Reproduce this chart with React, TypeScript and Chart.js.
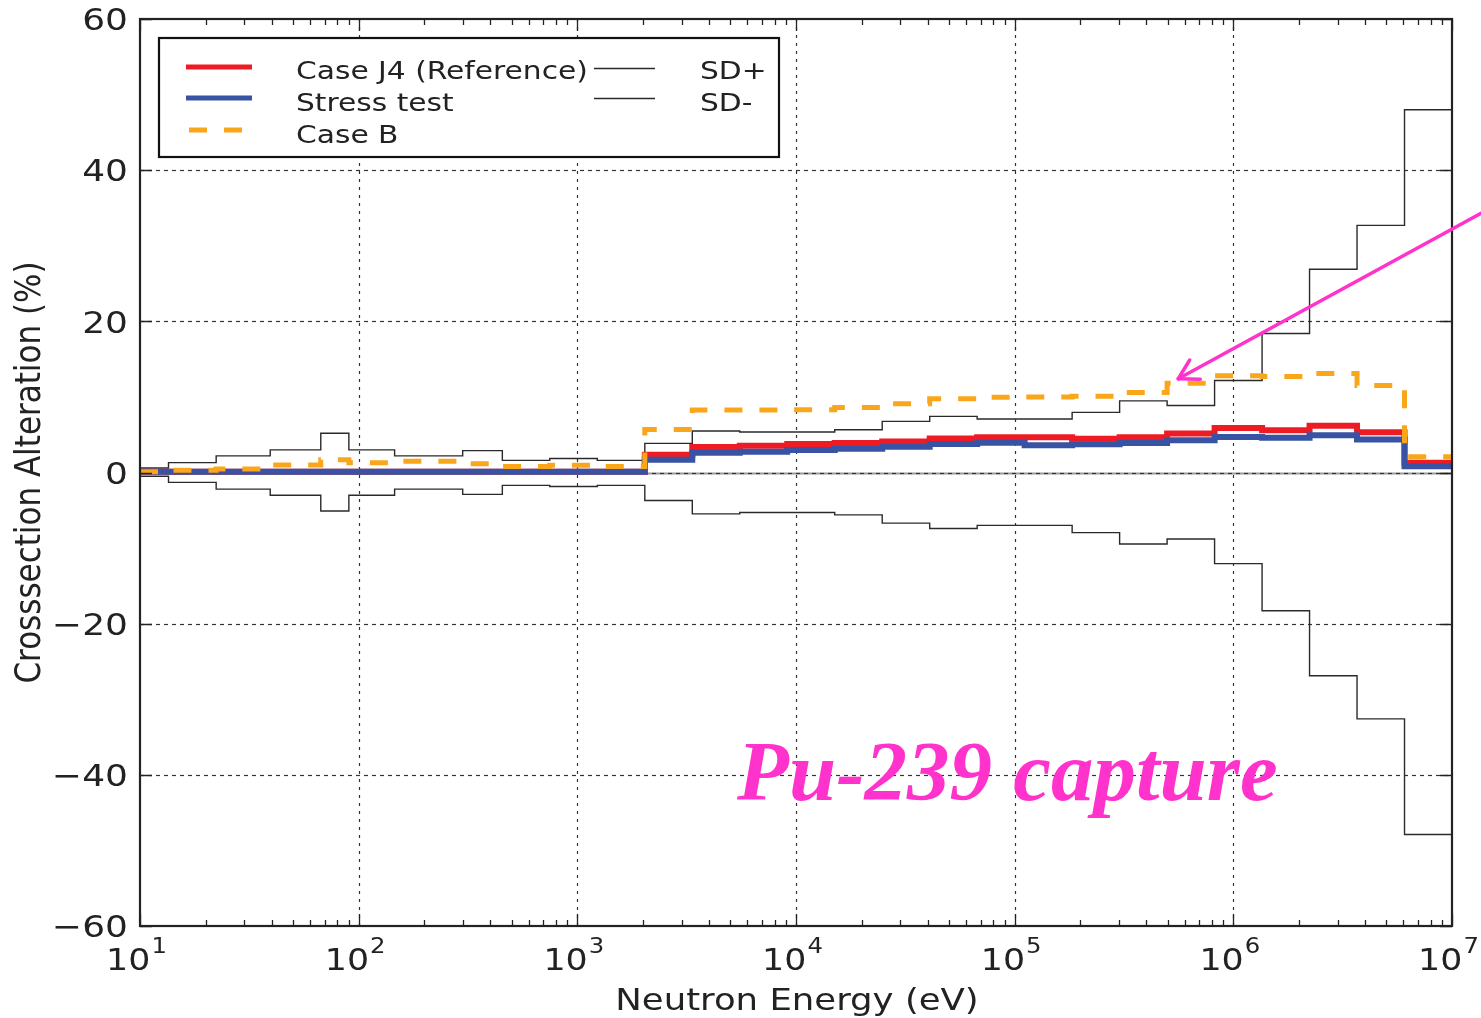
import React, { useEffect, useRef } from 'react';
import { Chart, registerables } from 'chart.js';

Chart.register(...registerables);

// Group boundaries (eV), 28 groups
const ENERGY_BOUNDS = [
  10, 13.5, 22.3, 39.4, 67.1, 90.2, 146, 299, 454, 748, 1234, 2035, 3355, 5531,
  9119, 15034, 24788, 40868, 67379, 111090, 183156, 301974, 497871, 820850,
  1353353, 2231302, 3678794, 6065307, 10000000,
];

const CASE_J4 = [
  0.1, 0.1, 0.1, 0.1, 0.1, 0.1, 0.1, 0.1, 0.1, 0.1, 0.1,
  2.36, 3.37, 3.55, 3.77, 3.9, 4.1, 4.5, 4.65, 4.65, 4.45, 4.67, 5.16, 5.9, 5.6, 6.2, 5.33, 1.28,
];

const STRESS_TEST = [
  0.1, 0.1, 0.1, 0.1, 0.1, 0.1, 0.1, 0.1, 0.1, 0.1, 0.1,
  1.7, 2.6, 2.75, 2.97, 3.15, 3.4, 3.77, 3.94, 3.6, 3.75, 3.9, 4.28, 4.7, 4.6, 4.94, 4.37, 0.84,
];

const CASE_B = [
  0.1, 0.3, 0.45, 1.0, 1.7, 1.3, 1.5, 1.15, 0.8, 0.95, 0.8,
  5.7, 8.26, 8.26, 8.3, 8.6, 9.1, 9.75, 9.95, 10.0, 10.1, 10.6, 11.8, 12.8, 12.7, 13.1, 11.5, 2.1,
];

const SD_PLUS = [
  0.6, 1.3, 2.2, 3.0, 5.2, 3.0, 2.2, 2.9, 1.6, 1.85, 1.6,
  3.85, 5.5, 5.35, 5.35, 5.66, 6.76, 7.42, 7.07, 7.07, 7.95, 9.48, 8.86, 12.17, 18.4, 26.9, 32.7, 48.0,
];

const SD_MINUS = [
  -0.5, -1.3, -2.2, -3.0, -5.1, -3.0, -2.2, -2.9, -1.7, -1.85, -1.7,
  -3.7, -5.48, -5.3, -5.3, -5.6, -6.7, -7.4, -7.0, -7.0, -7.95, -9.46, -8.8, -12.06, -18.3, -26.9, -32.6, -47.9,
];

const X_DECADES = [1, 2, 3, 4, 5, 6, 7];
const Y_TICKS = [-60, -40, -20, 0, 20, 40, 60];
const LEGEND_LEFT = ['Case J4 (Reference)', 'Stress test', 'Case B'];
const LEGEND_RIGHT = ['SD+', 'SD-'];
const X_TITLE = 'Neutron Energy (eV)';
const Y_TITLE = 'Crosssection Alteration (%)';
const NOTE_TEXT = 'Pu-239 capture';
const NOTE_POS = { ev: 5370, val: -43.3 };
const ARROW_TIP = { ev: 5.6e5, val: 12.4 };
const ARROW_TAIL_VAL = 34.3;

const COLORS = {
  j4: '#ED1C24',
  stress: '#3953A4',
  caseB: '#FAA61A',
  sd: '#2a2a2a',
  ink: '#222222',
  note: '#FF33CC',
};

const SX = 1.16; // horizontal stretch of the original figure's text
const FONT = '"DejaVu Sans", sans-serif';

function stepPoints(values: number[]) {
  const pts = values.map((v, i) => ({ x: ENERGY_BOUNDS[i], y: v }));
  pts.push({ x: ENERGY_BOUNDS[values.length], y: values[values.length - 1] });
  return pts;
}

function sText(ctx: CanvasRenderingContext2D, text: string, x: number, y: number, font: string, align: string, sx = SX) {
  ctx.save();
  ctx.font = font;
  ctx.textBaseline = 'alphabetic';
  ctx.textAlign = 'left';
  const w = ctx.measureText(text).width * sx;
  const x0 = align === 'center' ? x - w / 2 : align === 'right' ? x - w : x;
  ctx.translate(x0, y);
  ctx.scale(sx, 1);
  ctx.fillText(text, 0, 0);
  ctx.restore();
  return w;
}

const decorPlugin = {
  id: 'decor',
  beforeDraw(chart: any) {
    const { ctx, width, height } = chart;
    ctx.save();
    ctx.fillStyle = '#ffffff';
    ctx.fillRect(0, 0, width, height);
    ctx.restore();
  },
  beforeDatasetsDraw(chart: any) {
    const { ctx, chartArea: a, scales } = chart;
    const xs = scales.x;
    const ys = scales.y;
    ctx.save();
    const y0 = Math.round(ys.getPixelForValue(0)) + 0.5;
    ctx.strokeStyle = '#9a9a9a';
    ctx.lineWidth = 2;
    ctx.beginPath();
    ctx.moveTo(a.left, y0);
    ctx.lineTo(a.right, y0);
    ctx.stroke();
    ctx.strokeStyle = '#333';
    ctx.lineWidth = 1.2;
    ctx.setLineDash([4, 4]);
    for (const v of Y_TICKS) {
      if (v === -60 || v === 60) continue;
      const y = Math.round(ys.getPixelForValue(v)) + 0.5;
      ctx.beginPath();
      ctx.moveTo(a.left, y);
      ctx.lineTo(a.right, y);
      ctx.stroke();
    }
    ctx.setLineDash([3, 5]);
    for (const k of X_DECADES) {
      if (k === 1 || k === 7) continue;
      const x = Math.round(xs.getPixelForValue(Math.pow(10, k))) + 0.5;
      ctx.beginPath();
      ctx.moveTo(x, a.top);
      ctx.lineTo(x, a.bottom);
      ctx.stroke();
    }
    ctx.restore();
  },
  afterDatasetsDraw(chart: any) {
    const { ctx, chartArea: a, scales, width } = chart;
    const xs = scales.x;
    const ys = scales.y;
    ctx.save();
    ctx.strokeStyle = COLORS.ink;
    ctx.fillStyle = COLORS.ink;
    ctx.lineWidth = 1.3;
    for (const k of X_DECADES) {
      for (let m = 1; m <= 9; m++) {
        if (k === 7 && m > 1) break;
        const v = m * Math.pow(10, k);
        const x = Math.round(xs.getPixelForValue(v)) + 0.5;
        const len = m === 1 ? 12 : 6;
        ctx.beginPath();
        ctx.moveTo(x, a.bottom);
        ctx.lineTo(x, a.bottom - len);
        ctx.moveTo(x, a.top);
        ctx.lineTo(x, a.top + len);
        ctx.stroke();
      }
    }
    for (const v of Y_TICKS) {
      const y = Math.round(ys.getPixelForValue(v)) + 0.5;
      ctx.beginPath();
      ctx.moveTo(a.left, y);
      ctx.lineTo(a.left + 12, y);
      ctx.moveTo(a.right, y);
      ctx.lineTo(a.right - 12, y);
      ctx.stroke();
    }
    ctx.lineWidth = 2.2;
    ctx.strokeRect(a.left, a.top, a.right - a.left, a.bottom - a.top);

    for (const v of Y_TICKS) {
      const y = ys.getPixelForValue(v);
      const t = v < 0 ? '\u2212' + Math.abs(v) : String(v);
      sText(ctx, t, a.left - 12, y + 11.3, `31px ${FONT}`, 'right');
    }
    for (const k of X_DECADES) {
      const x = xs.getPixelForValue(Math.pow(10, k));
      ctx.font = `30px ${FONT}`;
      const wb = ctx.measureText('10').width * SX;
      ctx.font = `21px ${FONT}`;
      const we = ctx.measureText(String(k)).width * SX;
      const left = x - (wb + we) / 2 - 4;
      sText(ctx, '10', left, 970, `30px ${FONT}`, 'left');
      sText(ctx, String(k), left + wb + 1, 953, `21px ${FONT}`, 'left');
    }
    sText(ctx, X_TITLE, (a.left + a.right) / 2 + 1, 1010, `30.6px ${FONT}`, 'center');
    ctx.save();
    ctx.font = `31px ${FONT}`;
    const tw = ctx.measureText(Y_TITLE).width;
    ctx.translate(40, (a.top + a.bottom) / 2);
    ctx.rotate(-Math.PI / 2);
    ctx.scale(1, SX);
    ctx.textBaseline = 'alphabetic';
    ctx.textAlign = 'left';
    ctx.fillText(Y_TITLE, -tw / 2, 0);
    ctx.restore();

    // legend
    const lx = 159, ly = 38, lw = 620, lh = 119;
    ctx.fillStyle = '#ffffff';
    ctx.fillRect(lx, ly, lw, lh);
    ctx.lineWidth = 2.2;
    ctx.strokeStyle = '#111';
    ctx.strokeRect(lx, ly, lw, lh);
    const rows = [67, 98, 130];
    const baselines = [79, 111, 143];
    ctx.lineWidth = 5;
    ctx.lineCap = 'butt';
    ctx.strokeStyle = COLORS.j4;
    ctx.beginPath(); ctx.moveTo(186, rows[0]); ctx.lineTo(252, rows[0]); ctx.stroke();
    ctx.strokeStyle = COLORS.stress;
    ctx.beginPath(); ctx.moveTo(186, rows[1]); ctx.lineTo(252, rows[1]); ctx.stroke();
    ctx.strokeStyle = COLORS.caseB;
    ctx.setLineDash([18, 17]);
    ctx.beginPath(); ctx.moveTo(189, rows[2]); ctx.lineTo(250, rows[2]); ctx.stroke();
    ctx.setLineDash([]);
    ctx.strokeStyle = COLORS.sd;
    ctx.lineWidth = 1.3;
    ctx.beginPath(); ctx.moveTo(594, rows[0] + 1.5); ctx.lineTo(655, rows[0] + 1.5); ctx.stroke();
    ctx.beginPath(); ctx.moveTo(594, rows[1] + 0.5); ctx.lineTo(655, rows[1] + 0.5); ctx.stroke();
    ctx.fillStyle = COLORS.ink;
    LEGEND_LEFT.forEach((t, i) => sText(ctx, t, 296, baselines[i], `25.6px ${FONT}`, 'left'));
    LEGEND_RIGHT.forEach((t, i) => sText(ctx, t, 700, baselines[i], `25.6px ${FONT}`, 'left'));

    // annotation text
    ctx.fillStyle = COLORS.note;
    ctx.font = 'italic bold 85px "Liberation Serif", serif';
    ctx.textAlign = 'left';
    ctx.textBaseline = 'alphabetic';
    ctx.fillText(NOTE_TEXT, xs.getPixelForValue(NOTE_POS.ev), ys.getPixelForValue(NOTE_POS.val));

    // arrow
    const tipX = xs.getPixelForValue(ARROW_TIP.ev);
    const tipY = ys.getPixelForValue(ARROW_TIP.val);
    const tailX = width;
    const tailY = ys.getPixelForValue(ARROW_TAIL_VAL);
    ctx.strokeStyle = COLORS.note;
    ctx.lineWidth = 3.5;
    ctx.lineCap = 'round';
    ctx.beginPath();
    ctx.moveTo(tailX, tailY);
    ctx.lineTo(tipX, tipY);
    ctx.stroke();
    const dx = tailX - tipX, dy = tailY - tipY;
    const d = Math.hypot(dx, dy);
    const bx = dx / d, by = dy / d;
    const L = 22;
    for (const ang of [Math.PI / 6, -Math.PI / 6]) {
      const c = Math.cos(ang), s = Math.sin(ang);
      const rx = bx * c - by * s, ry = bx * s + by * c;
      ctx.beginPath();
      ctx.moveTo(tipX, tipY);
      ctx.lineTo(tipX + rx * L, tipY + ry * L);
      ctx.stroke();
    }
    ctx.restore();
  },
};

export default function App() {
  const canvasRef = useRef<HTMLCanvasElement | null>(null);

  useEffect(() => {
    const canvas = canvasRef.current;
    if (!canvas) return;
    const common = { stepped: 'before', pointRadius: 0, fill: false, borderJoinStyle: 'miter' };
    const chart = new Chart(canvas, {
      type: 'line',
      data: {
        datasets: [
          { ...common, label: 'Case B', data: stepPoints(CASE_B), borderColor: COLORS.caseB, borderWidth: 5, borderDash: [18, 17], borderCapStyle: 'butt', order: 0 },
          { ...common, label: 'Stress test', data: stepPoints(STRESS_TEST), borderColor: COLORS.stress, borderWidth: 6, order: 1 },
          { ...common, label: 'Case J4 (Reference)', data: stepPoints(CASE_J4), borderColor: COLORS.j4, borderWidth: 6, order: 2 },
          { ...common, label: 'SD+', data: stepPoints(SD_PLUS), borderColor: COLORS.sd, borderWidth: 1.4, order: 3 },
          { ...common, label: 'SD-', data: stepPoints(SD_MINUS), borderColor: COLORS.sd, borderWidth: 1.4, order: 4 },
        ] as any,
      },
      options: {
        animation: false,
        responsive: false,
        maintainAspectRatio: false,
        devicePixelRatio: 1,
        layout: { padding: { top: 19, right: 29, left: 0, bottom: 0 } },
        plugins: { legend: { display: false }, tooltip: { enabled: false } },
        scales: {
          x: {
            type: 'logarithmic',
            min: 10,
            max: 1e7,
            afterFit: (s: any) => { s.height = 92; },
            ticks: { display: false },
            grid: { display: false },
            border: { display: false },
          },
          y: {
            type: 'linear',
            min: -60,
            max: 60,
            afterFit: (s: any) => { s.width = 140; },
            ticks: { display: false, stepSize: 20 },
            grid: { display: false },
            border: { display: false },
          },
        },
      } as any,
      plugins: [decorPlugin],
    });
    return () => chart.destroy();
  }, []);

  return (
    <div style={{ position: 'absolute', left: 0, top: 0, width: 1481, height: 1018, background: '#fff' }}>
      <canvas ref={canvasRef} width={1481} height={1018} style={{ display: 'block', width: 1481, height: 1018 }} />
    </div>
  );
}
